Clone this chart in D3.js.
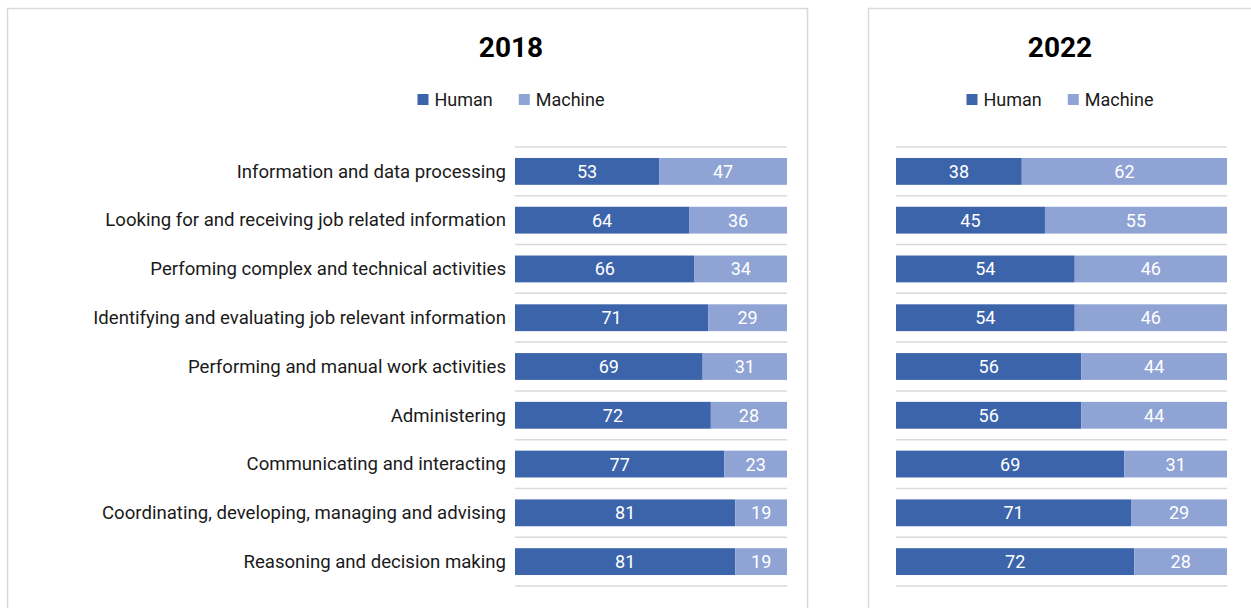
<!DOCTYPE html>
<html><head><meta charset="utf-8">
<script src="https://cdn.jsdelivr.net/npm/d3@7"></script>
<style>body{margin:0;background:#fff}svg{display:block}text{font-family:Roboto,"DejaVu Sans",sans-serif}</style>
</head><body><svg id="c" width="1251" height="608"></svg>
<script>
const categories = [
  "Information and data processing",
  "Looking for and receiving job related information",
  "Perfoming complex and technical activities",
  "Identifying and evaluating job relevant information",
  "Performing and manual work activities",
  "Administering",
  "Communicating and interacting",
  "Coordinating, developing, managing and advising",
  "Reasoning and decision making"
];
const human2018 = [53,64,66,71,69,72,77,81,81];
const machine2018 = [47,36,34,29,31,28,23,19,19];
const human2022 = [38,45,54,54,56,56,69,71,72];
const machine2022 = [62,55,46,46,44,44,31,29,28];
const seriesNames = ["Human","Machine"];
const years = ["2018","2022"];

const colors = {Human:"#3c64ab", Machine:"#8fa4d5"};
const svg = d3.select("#c");

const panels = [
  {year:years[0], human:human2018, machine:machine2018, box:[7.5,8.5,800,640], xr:[515,787], titleX:511, labels:true},
  {year:years[1], human:human2022, machine:machine2022, box:[868.5,8.5,500,640], xr:[896,1227], titleX:1060, labels:false}
];

const y = d3.scaleBand().domain(categories).range([147,586]).paddingInner(0.45).paddingOuter(0.225);
const step = y.step();

panels.forEach(p => {
  const g = svg.append("g");
  g.append("rect").attr("x",p.box[0]).attr("y",p.box[1]).attr("width",p.box[2]).attr("height",p.box[3])
    .attr("fill","#fff").attr("stroke","#d9d9d9").attr("stroke-width",1.5);
  g.append("text").attr("x",p.titleX).attr("y",57).attr("text-anchor","middle")
    .attr("font-size",28).attr("font-weight","bold").attr("fill","#000").text(p.year);
  // legend
  const lg = g.append("g");
  let lx = 0;
  const items = [];
  seriesNames.forEach((s,i)=>{
    const it = lg.append("g");
    it.append("rect").attr("x",0).attr("y",94).attr("width",11).attr("height",11).attr("fill",colors[s]);
    const t = it.append("text").attr("x",17).attr("y",105.5).attr("font-size",18).attr("fill","#1a1a1a").text(s);
    items.push({it, w:17+t.node().getComputedTextLength()});
  });
  const gap = 26;
  const total = items.reduce((a,b)=>a+b.w,0)+gap*(items.length-1);
  lx = p.titleX - total/2;
  items.forEach(o=>{ o.it.attr("transform",`translate(${lx},0)`); lx += o.w+gap; });

  const x = d3.scaleLinear().domain([0,100]).range(p.xr);
  // gridlines
  const gridYs = d3.range(categories.length+1).map(i=>y.range()[0]+i*step);
  g.selectAll(".grid").data(gridYs).join("line")
    .attr("x1",x(0)).attr("x2",x(100)).attr("y1",d=>d).attr("y2",d=>d)
    .attr("stroke","#d9d9d9").attr("stroke-width",1.5);
  const rows = categories.map((c,i)=>({c, h:p.human[i], m:p.machine[i]}));
  const rg = g.selectAll(".row").data(rows).join("g");
  rg.append("rect").attr("x",x(0)).attr("y",d=>y(d.c)).attr("width",d=>x(d.h)-x(0)).attr("height",y.bandwidth()).attr("fill",colors.Human);
  rg.append("rect").attr("x",d=>x(d.h)).attr("y",d=>y(d.c)).attr("width",d=>x(d.h+d.m)-x(d.h)).attr("height",y.bandwidth()).attr("fill",colors.Machine);
  rg.append("text").attr("x",d=>(x(0)+x(d.h))/2).attr("y",d=>y(d.c)+y.bandwidth()/2).attr("dy","0.36em")
    .attr("text-anchor","middle").attr("font-size",18).attr("fill","#fff").text(d=>d.h);
  rg.append("text").attr("x",d=>(x(d.h)+x(d.h+d.m))/2).attr("y",d=>y(d.c)+y.bandwidth()/2).attr("dy","0.36em")
    .attr("text-anchor","middle").attr("font-size",18).attr("fill","#fff").text(d=>d.m);
  if (p.labels) {
    rg.append("text").attr("x",506).attr("y",d=>y(d.c)+y.bandwidth()/2).attr("dy","0.34em")
      .attr("text-anchor","end").attr("font-size",18.6).attr("fill","#1a1a1a").text(d=>d.c);
  }
});
</script></body></html>
